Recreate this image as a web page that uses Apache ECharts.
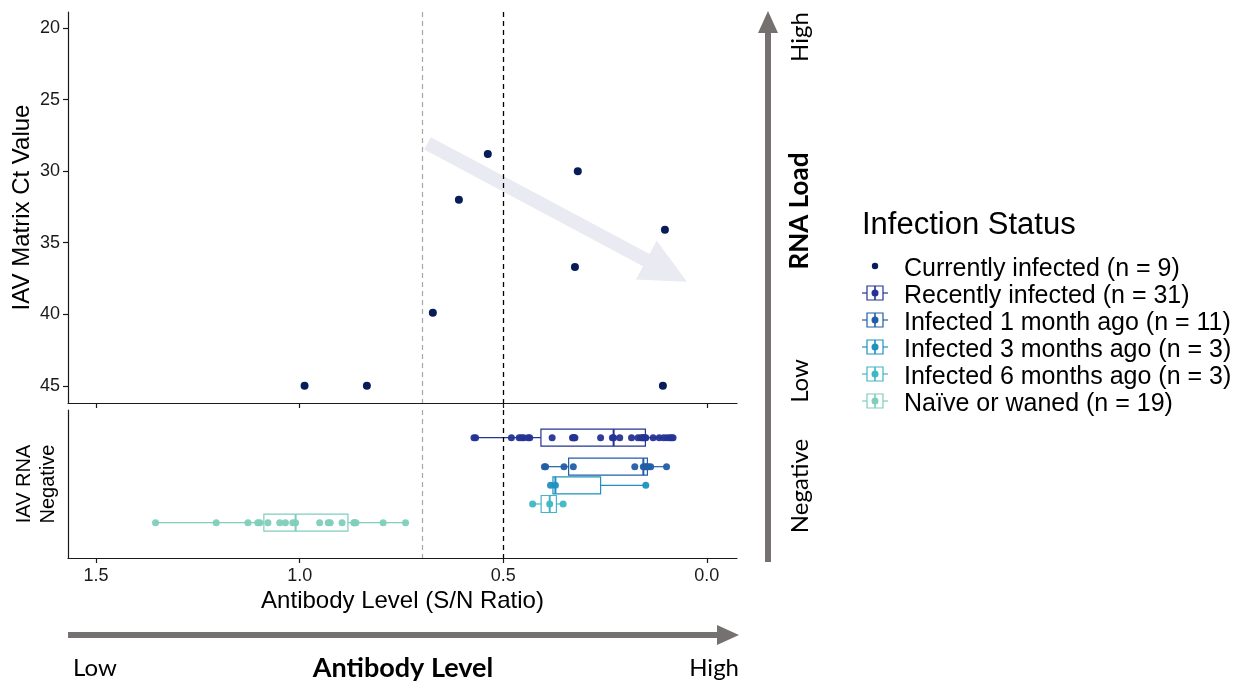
<!DOCTYPE html>
<html><head><meta charset="utf-8">
<script src="https://cdn.jsdelivr.net/npm/echarts@6/dist/echarts.min.js"></script>
<style>html,body{margin:0;padding:0;background:#fff}#c{width:1240px;height:684px}</style>
</head><body><div id="c"></div>
<script>
// ---------- data ----------
const xTickValues = [0, 0.5, 1.0, 1.5];
const ctTickValues = [20, 25, 30, 35, 40, 45];
const cutoffs = [0.7, 0.5];

const currentAb = [0.988, 0.835, 0.673, 0.609, 0.538, 0.317, 0.324, 0.103, 0.108];
const currentCt = [45, 45, 39.9, 32.0, 28.8, 30.0, 36.7, 34.1, 45];

const legendLabels = [
  'Currently infected (n = 9)',
  'Recently infected (n = 31)',
  'Infected 1 month ago (n = 11)',
  'Infected 3 months ago (n = 3)',
  'Infected 6 months ago (n = 3)',
  'Naïve or waned (n = 19)'
];
const colors = ['#081d58', '#253494', '#225ea8', '#1d91c0', '#41b6c4', '#7fcdbb'];

const recentAb = [0.572, 0.568, 0.480, 0.461, 0.455, 0.450, 0.439, 0.435, 0.380, 0.330,
  0.328, 0.326, 0.324, 0.261, 0.232, 0.229, 0.214, 0.185, 0.169, 0.162,
  0.158, 0.156, 0.152, 0.150, 0.132, 0.117, 0.106, 0.098, 0.091, 0.087, 0.083];
const month1Ab = [0.399, 0.396, 0.351, 0.328, 0.177, 0.156, 0.152, 0.148, 0.144, 0.138, 0.099];
const month3Ab = [0.384, 0.372, 0.150];
const month6Ab = [0.428, 0.386, 0.353];
const naiveAb = [1.354, 1.205, 1.127, 1.103, 1.098, 1.078, 1.049, 1.035, 1.017, 1.010,
  0.951, 0.930, 0.925, 0.896, 0.867, 0.865, 0.862, 0.795, 0.740];
const groupRows = [0.187, 0.383, 0.509, 0.635, 0.761];

// ---------- helpers ----------
function quantile(sorted, p) {
  const h = (sorted.length - 1) * p, lo = Math.floor(h), hi = Math.ceil(h);
  return sorted[lo] + (sorted[hi] - sorted[lo]) * (h - lo);
}
function boxStats(arr) {
  const s = arr.slice().sort((a, b) => a - b);
  const q1 = quantile(s, 0.25), md = quantile(s, 0.5), q3 = quantile(s, 0.75);
  const iqr = q3 - q1;
  const lo = s.filter(v => v >= q1 - 1.5 * iqr)[0];
  const hiArr = s.filter(v => v <= q3 + 1.5 * iqr);
  const hi = hiArr[hiArr.length - 1];
  return [lo, q1, md, q3, hi];
}

const groups = [recentAb, month1Ab, month3Ab, month6Ab, naiveAb];
const boxData = groups.map((g, i) => boxStats(g).concat([groupRows[i], i]));

const FONT = '"Liberation Sans", Arial, Helvetica, sans-serif';
const FONT2 = 'Lato, "Open Sans", sans-serif';
const AX = '#1a1a1a';

const chart = echarts.init(document.getElementById('c'), null, {renderer: 'canvas'});

const xMin = -0.074, xMax = 1.569;

const dashLines = () => ({
  silent: true, symbol: 'none', label: {show: false}, animation: false,
  data: [
    {xAxis: cutoffs[0], lineStyle: {color: '#a6a6a6', type: [5, 4], width: 1.2}},
    {xAxis: cutoffs[1], lineStyle: {color: '#000', type: [5, 4], width: 1.3}}
  ]
});

const series = [
  {
    type: 'scatter', xAxisIndex: 0, yAxisIndex: 0, z: 5,
    data: currentAb.map((v, i) => [v, currentCt[i]]),
    symbolSize: 8, itemStyle: {color: colors[0], opacity: 1},
    markLine: dashLines()
  },
  {
    type: 'custom', xAxisIndex: 1, yAxisIndex: 1, z: 3,
    data: boxData,
    encode: {x: [0, 1, 2, 3, 4], y: 5},
    renderItem: function (params, api) {
      const row = api.value(5);
      const c = colors[api.value(6) + 1];
      const lo = api.coord([api.value(0), row]);
      const q1 = api.coord([api.value(1), row]);
      const md = api.coord([api.value(2), row]);
      const q3 = api.coord([api.value(3), row]);
      const hi = api.coord([api.value(4), row]);
      const h = 8.5;
      const xl = Math.min(q1[0], q3[0]), xr = Math.max(q1[0], q3[0]);
      return {
        type: 'group', children: [
          {type: 'line', shape: {x1: lo[0], y1: lo[1], x2: q1[0], y2: q1[1]}, style: {stroke: c, lineWidth: 1.2}},
          {type: 'line', shape: {x1: q3[0], y1: q3[1], x2: hi[0], y2: hi[1]}, style: {stroke: c, lineWidth: 1.2}},
          {type: 'rect', shape: {x: xl, y: q1[1] - h, width: xr - xl, height: 2 * h}, style: {fill: 'rgba(255,255,255,0)', stroke: c, lineWidth: 1.2}},
          {type: 'line', shape: {x1: md[0], y1: md[1] - h, x2: md[0], y2: md[1] + h}, style: {stroke: c, lineWidth: 2}}
        ]
      };
    },
    markLine: dashLines()
  }
];
groups.forEach((g, i) => {
  series.push({
    type: 'scatter', xAxisIndex: 1, yAxisIndex: 1, z: 6,
    data: g.map(v => [v, groupRows[i]]),
    symbolSize: 7, itemStyle: {color: colors[i + 1], opacity: 0.95}
  });
});

const commonX = {
  type: 'value', min: xMin, max: xMax, inverse: true,
  axisLine: {show: true, onZero: false, lineStyle: {color: AX, width: 1.2}},
  axisTick: {show: true, inside: false, length: 5, customValues: xTickValues, lineStyle: {color: AX, width: 1.2}},
  splitLine: {show: false}
};

chart.setOption({
  animation: false,
  backgroundColor: '#fff',
  textStyle: {fontFamily: FONT},
  grid: [
    {left: 68, top: 12, width: 669, height: 391, containLabel: false, outerBoundsMode: 'none'},
    {left: 68, top: 410, width: 669, height: 148, containLabel: false, outerBoundsMode: 'none'}
  ],
  xAxis: [
    Object.assign({gridIndex: 0, axisLabel: {show: false}}, commonX),
    Object.assign({
      gridIndex: 1,
      axisLabel: {show: true, customValues: xTickValues, fontSize: 18, color: AX, fontFamily: FONT, margin: 9,
        formatter: v => v.toFixed(1)},
      name: 'Antibody Level (S/N Ratio)', nameLocation: 'middle', nameGap: 31,
      nameTextStyle: {fontSize: 24, color: '#000', fontFamily: FONT}
    }, commonX)
  ],
  yAxis: [
    {
      gridIndex: 0, type: 'value', min: 18.88, max: 46.2, inverse: true,
      axisLine: {show: true, onZero: false, lineStyle: {color: AX, width: 1.2}},
      axisTick: {show: true, inside: false, length: 5, customValues: ctTickValues, lineStyle: {color: AX, width: 1.2}},
      axisLabel: {show: true, customValues: ctTickValues, fontSize: 18, color: AX, fontFamily: FONT, margin: 8},
      splitLine: {show: false},
      name: 'IAV Matrix Ct Value', nameLocation: 'middle', nameRotate: 90, nameGap: 34, nameMoveOverlap: false,
      nameTextStyle: {fontSize: 24, color: '#000', fontFamily: FONT}
    },
    {
      gridIndex: 1, type: 'value', min: 0, max: 1, inverse: true,
      axisLine: {show: true, onZero: false, lineStyle: {color: AX, width: 1.2}},
      axisTick: {show: false}, axisLabel: {show: false}, splitLine: {show: false},
      name: 'IAV RNA\nNegative', nameLocation: 'middle', nameRotate: 90, nameGap: 8,
      nameTextStyle: {fontSize: 20, lineHeight: 24, color: '#000', fontFamily: FONT, align: 'center'}
    }
  ],
  series: series
});

// ---------- annotations ----------
const arrowStart = [0.686, 28.06];
const arrowEnd = [0.049, 37.73];

function arrowPoly(p0, p1, shaftHalf, headHalf, headLen) {
  const dx = p1[0] - p0[0], dy = p1[1] - p0[1];
  const L = Math.hypot(dx, dy), ux = dx / L, uy = dy / L, nx = -uy, ny = ux;
  const bx = p1[0] - ux * headLen, by = p1[1] - uy * headLen;
  return [
    [p0[0] + nx * shaftHalf, p0[1] + ny * shaftHalf],
    [bx + nx * shaftHalf, by + ny * shaftHalf],
    [bx + nx * headHalf, by + ny * headHalf],
    [p1[0], p1[1]],
    [bx - nx * headHalf, by - ny * headHalf],
    [bx - nx * shaftHalf, by - ny * shaftHalf],
    [p0[0] - nx * shaftHalf, p0[1] - ny * shaftHalf]
  ];
}

const a0 = chart.convertToPixel({xAxisIndex: 0, yAxisIndex: 0}, arrowStart);
const a1 = chart.convertToPixel({xAxisIndex: 0, yAxisIndex: 0}, arrowEnd);

const GRAY = '#767171';
const graphics = [
  {type: 'polygon', z: 1, silent: true, shape: {points: arrowPoly(a0, a1, 7, 22, 46)}, style: {fill: '#e9eaf2'}},
  {type: 'polygon', z: 10, silent: true, shape: {points: arrowPoly([768, 562], [768, 11], 3, 10, 22)}, style: {fill: GRAY}},
  {type: 'polygon', z: 10, silent: true, shape: {points: arrowPoly([68, 635], [739, 635], 3, 10, 22)}, style: {fill: GRAY}},
  {type: 'text', x: 800, y: 37, rotation: Math.PI / 2, style: {text: 'High', font: '24px ' + FONT2, fill: '#000', align: 'center', verticalAlign: 'middle'}},
  {type: 'text', x: 800, y: 211, rotation: Math.PI / 2, style: {text: 'RNA Load', font: 'bold 26px ' + FONT2, fill: '#000', align: 'center', verticalAlign: 'middle'}},
  {type: 'text', x: 800, y: 381, rotation: Math.PI / 2, style: {text: 'Low', font: '24px ' + FONT2, fill: '#000', align: 'center', verticalAlign: 'middle'}},
  {type: 'text', x: 800, y: 486, rotation: Math.PI / 2, style: {text: 'Negative', font: '24px ' + FONT2, fill: '#000', align: 'center', verticalAlign: 'middle'}},
  {type: 'text', x: 73, y: 668, style: {text: 'Low', font: '24px ' + FONT2, fill: '#000', align: 'left', verticalAlign: 'middle'}},
  {type: 'text', x: 403, y: 668, style: {text: 'Antibody Level', font: 'bold 27px ' + FONT2, fill: '#000', align: 'center', verticalAlign: 'middle'}},
  {type: 'text', x: 739, y: 668, style: {text: 'High', font: '24px ' + FONT2, fill: '#000', align: 'right', verticalAlign: 'middle'}},
  {type: 'text', x: 862, y: 225, style: {text: 'Infection Status', font: '31px ' + FONT, fill: '#000', align: 'left', verticalAlign: 'middle'}}
];

legendLabels.forEach((lab, i) => {
  const yc = 269 + 27 * i;
  const ky = yc - 3;
  const c = colors[i];
  if (i === 0) {
    graphics.push({type: 'circle', z: 10, shape: {cx: 875, cy: ky, r: 3.2}, style: {fill: c}});
  } else {
    graphics.push({type: 'line', z: 10, shape: {x1: 862, y1: ky, x2: 888, y2: ky}, style: {stroke: c, lineWidth: 1.2}});
    graphics.push({type: 'rect', z: 10, shape: {x: 867, y: ky - 7, width: 16, height: 14}, style: {fill: '#fff', stroke: c, lineWidth: 1.2}});
    graphics.push({type: 'line', z: 10, shape: {x1: 875, y1: ky - 7, x2: 875, y2: ky + 7}, style: {stroke: c, lineWidth: 1.6}});
    graphics.push({type: 'circle', z: 11, shape: {cx: 875, cy: ky, r: 3.5}, style: {fill: c}});
  }
  graphics.push({type: 'text', z: 10, x: 904, y: yc, style: {text: lab, font: '25px ' + FONT, fill: '#000', align: 'left', verticalAlign: 'middle'}});
});

chart.setOption({graphic: graphics});
</script>
</body></html>
